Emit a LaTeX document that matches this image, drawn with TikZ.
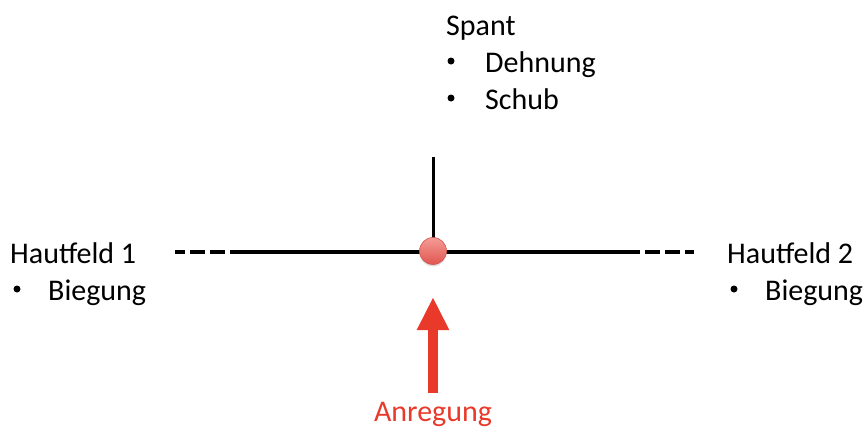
\documentclass[tikz,border=0pt]{standalone}
\usepackage{fontspec}
\setmainfont{Carlito}
\usetikzlibrary{arrows.meta,shadings,calc}
\definecolor{beamred}{HTML}{E8392A}
\definecolor{jointlight}{HTML}{F49C95}
\definecolor{jointdark}{HTML}{E15550}
\definecolor{jointedge}{HTML}{D4554E}
\tikzset{
  lbl/.style={anchor=base west, inner sep=0pt, font=\fontsize{30}{36}\selectfont},
  bul/.style={circle, fill=black, inner sep=0pt, minimum size=7pt},
  beam/.style={line width=4pt, black},
  beamdash/.style={line width=4pt, black, dash pattern=on 15pt off 5pt, dash phase=15pt},
}
\begin{document}
\begin{tikzpicture}[x=1pt,y=-1pt]
\useasboundingbox (0,0) rectangle (867,429);

% structural members
\coordinate (L0) at (175,252);
\coordinate (L1) at (230,252);
\coordinate (J) at (433,251);
\coordinate (R1) at (640,252);
\coordinate (R0) at (694,252);
\coordinate (T) at (433,157);
\draw[beamdash] (L1) -- (L0);
\draw[beamdash] (R1) -- (R0);
\draw[beam] (L1) -- (R1);
\draw[line width=3pt] (T) -- (J);

% joint
\fill[black!25, opacity=0.5] ($(J)+(0,2)$) circle[radius=13.5pt];
\shade[top color=jointlight, bottom color=jointdark, draw=jointedge, line width=0.6pt]
  (J) circle[radius=13.5pt];
\node[circle, minimum size=27pt, inner sep=0pt] (joint) at (J) {};

% excitation
\coordinate (Abase) at (433,393);
\draw[beamred, line width=10pt, -{Triangle[length=33pt,width=30pt]}]
  (Abase) -- (433,297);
\node[anchor=base, inner sep=0pt, text=beamred,
  font=\fontsize{30}{36}\selectfont] (anr) at (433,421) {Anregung};

% frame label
\node[lbl] (spant) at (446,35) {Spant};
\node[bul] (b1) at (451,61) {};
\node[lbl] (dehn) at (485,72) {Dehnung};
\node[bul] (b2) at (451,98) {};
\node[lbl] (schub) at (485,109) {Schub};

% skin field 1
\node[lbl] (hf1) at (10,263) {Hautfeld 1};
\node[bul] (b3) at (17,289) {};
\node[lbl] (bieg1) at (48,300) {Biegung};

% skin field 2
\node[lbl] (hf2) at (727,263) {Hautfeld 2};
\node[bul] (b4) at (734,289) {};
\node[lbl] (bieg2) at (765,300) {Biegung};
\end{tikzpicture}
\end{document}
